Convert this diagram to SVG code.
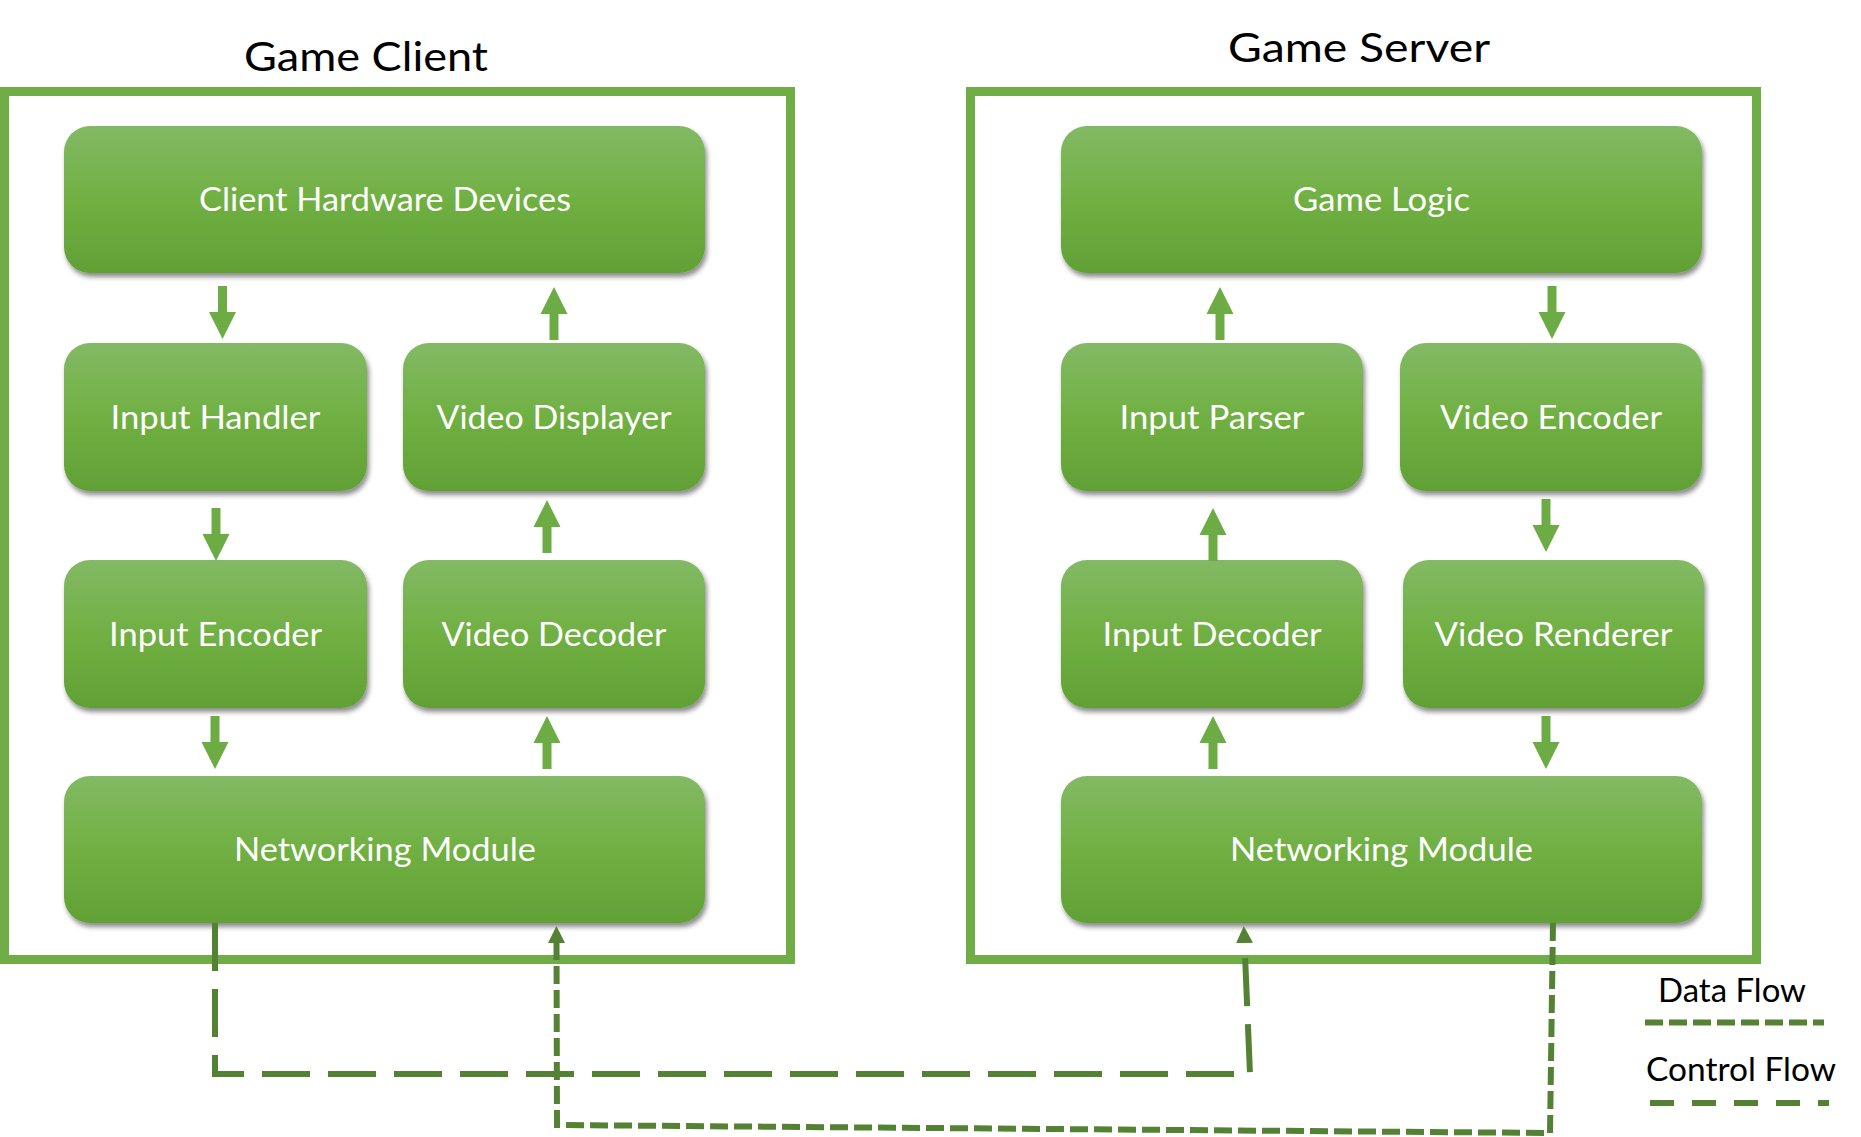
<svg xmlns="http://www.w3.org/2000/svg" xmlns:xlink="http://www.w3.org/1999/xlink" width="1861" height="1137" viewBox="0 0 1861 1137">
  <style>
    .frame { fill: none; stroke: #70ad47; stroke-width: 9; }
    .box { fill: url(#boxGrad); filter: url(#shadow); }
    .lbl { font-family: Lato, "Open Sans", "Liberation Sans", sans-serif; font-size: 33px; fill: #ffffff; text-anchor: middle; }
    .title { font-family: Lato, "Open Sans", "Liberation Sans", sans-serif; fill: #000000; text-anchor: middle; }
    .legend { font-family: Lato, "Open Sans", "Liberation Sans", sans-serif; font-size: 32px; fill: #000000; text-anchor: middle; }
    .blk { fill: #6dab44; }
    .ctrl { fill: none; stroke: #548235; stroke-width: 6; stroke-dasharray: 48 18; }
    .data { fill: none; stroke: #548235; stroke-width: 6; stroke-dasharray: 18 6; }
    .ctrlLeg { fill: none; stroke: #548235; stroke-width: 6; stroke-dasharray: 24 18; }
  </style>
  <defs>
    <linearGradient id="boxGrad" x1="0" y1="0" x2="0" y2="1">
      <stop offset="0" stop-color="#83b965"/>
      <stop offset="0.5" stop-color="#70b042"/>
      <stop offset="1" stop-color="#61a035"/>
    </linearGradient>
    <filter id="shadow" x="-5%" y="-5%" width="115%" height="125%">
      <feDropShadow dx="2" dy="4" stdDeviation="2.5" flood-color="#000000" flood-opacity="0.45"/>
    </filter>
    <path id="downArrow" d="M-4.5,0 H4.5 V26 H13.5 L0,53 L-13.5,26 H-4.5 Z"/>
    <marker id="tri" markerUnits="userSpaceOnUse" markerWidth="18" markerHeight="18" refX="0" refY="8.5" orient="auto" viewBox="0 0 18 17">
      <path d="M0,0 L17,8.5 L0,17 Z" fill="#548235"/>
    </marker>
  </defs>

  <rect width="1861" height="1137" fill="#ffffff"/>

  <!-- Containers -->
  <g id="client-container">
    <rect class="frame" x="4.5" y="91.5" width="786" height="868"/>
    <text class="title" x="366" y="71" font-size="40" textLength="244" lengthAdjust="spacingAndGlyphs">Game Client</text>
  </g>
  <g id="server-container">
    <rect class="frame" x="970.5" y="91.5" width="786" height="868"/>
    <text class="title" x="1359" y="62" font-size="41" textLength="262" lengthAdjust="spacingAndGlyphs">Game Server</text>
  </g>

  <!-- Client nodes -->
  <g id="client-hardware">
    <rect class="box" x="64" y="126" width="641" height="147" rx="26"/>
    <text class="lbl" x="385" y="211" textLength="372" lengthAdjust="spacingAndGlyphs">Client Hardware Devices</text>
  </g>
  <g id="input-handler">
    <rect class="box" x="64" y="343" width="303" height="148" rx="26"/>
    <text class="lbl" x="215.5" y="428.5" textLength="210" lengthAdjust="spacingAndGlyphs">Input Handler</text>
  </g>
  <g id="video-displayer">
    <rect class="box" x="403" y="343" width="302" height="148" rx="26"/>
    <text class="lbl" x="554" y="428.5" textLength="235" lengthAdjust="spacingAndGlyphs">Video Displayer</text>
  </g>
  <g id="input-encoder">
    <rect class="box" x="64" y="560" width="303" height="148" rx="26"/>
    <text class="lbl" x="215.5" y="645.5" textLength="213" lengthAdjust="spacingAndGlyphs">Input Encoder</text>
  </g>
  <g id="video-decoder">
    <rect class="box" x="403" y="560" width="302" height="148" rx="26"/>
    <text class="lbl" x="554" y="645.5" textLength="225" lengthAdjust="spacingAndGlyphs">Video Decoder</text>
  </g>
  <g id="client-networking">
    <rect class="box" x="64" y="776" width="641" height="147" rx="26"/>
    <text class="lbl" x="385" y="861" textLength="302" lengthAdjust="spacingAndGlyphs">Networking Module</text>
  </g>

  <!-- Server nodes -->
  <g id="game-logic">
    <rect class="box" x="1061" y="126" width="641" height="147" rx="26"/>
    <text class="lbl" x="1381.5" y="211" textLength="177" lengthAdjust="spacingAndGlyphs">Game Logic</text>
  </g>
  <g id="input-parser">
    <rect class="box" x="1061" y="343" width="302" height="148" rx="26"/>
    <text class="lbl" x="1212" y="428.5" textLength="185" lengthAdjust="spacingAndGlyphs">Input Parser</text>
  </g>
  <g id="video-encoder">
    <rect class="box" x="1400" y="343" width="302" height="148" rx="26"/>
    <text class="lbl" x="1551" y="428.5" textLength="222" lengthAdjust="spacingAndGlyphs">Video Encoder</text>
  </g>
  <g id="input-decoder">
    <rect class="box" x="1061" y="560" width="302" height="148" rx="26"/>
    <text class="lbl" x="1212" y="645.5" textLength="219" lengthAdjust="spacingAndGlyphs">Input Decoder</text>
  </g>
  <g id="video-renderer">
    <rect class="box" x="1403" y="560" width="301" height="148" rx="26"/>
    <text class="lbl" x="1553.5" y="645.5" textLength="238" lengthAdjust="spacingAndGlyphs">Video Renderer</text>
  </g>
  <g id="server-networking">
    <rect class="box" x="1061" y="776" width="641" height="147" rx="26"/>
    <text class="lbl" x="1381.5" y="861" textLength="303" lengthAdjust="spacingAndGlyphs">Networking Module</text>
  </g>

  <!-- Connectors -->
  <g id="connectors">
    <!-- client block arrows -->
    <use xlink:href="#downArrow" href="#downArrow" class="blk" transform="translate(222.5,286)"/>
    <use xlink:href="#downArrow" href="#downArrow" class="blk" transform="translate(554,340) scale(1,-1)"/>
    <use xlink:href="#downArrow" href="#downArrow" class="blk" transform="translate(216,508)"/>
    <use xlink:href="#downArrow" href="#downArrow" class="blk" transform="translate(547,553) scale(1,-1)"/>
    <use xlink:href="#downArrow" href="#downArrow" class="blk" transform="translate(215,716)"/>
    <use xlink:href="#downArrow" href="#downArrow" class="blk" transform="translate(547,769) scale(1,-1)"/>
    <!-- server block arrows -->
    <use xlink:href="#downArrow" href="#downArrow" class="blk" transform="translate(1220,340) scale(1,-1)"/>
    <use xlink:href="#downArrow" href="#downArrow" class="blk" transform="translate(1552,286)"/>
    <use xlink:href="#downArrow" href="#downArrow" class="blk" transform="translate(1213,561) scale(1,-1)"/>
    <use xlink:href="#downArrow" href="#downArrow" class="blk" transform="translate(1546,499)"/>
    <use xlink:href="#downArrow" href="#downArrow" class="blk" transform="translate(1213,769) scale(1,-1)"/>
    <use xlink:href="#downArrow" href="#downArrow" class="blk" transform="translate(1546,716)"/>
    <!-- control flow: client networking -> server networking -->
    <path class="ctrl" d="M215,923 V1074 H1250 L1244.5,943" marker-end="url(#tri)"/>
    <!-- data flow: server networking -> client networking -->
    <path class="data" d="M1553,923 L1550,1133 L557,1125 L556.5,943" marker-end="url(#tri)"/>
  </g>

  <!-- Legend -->
  <g id="legend">
    <text class="legend" x="1732" y="1002" textLength="148" lengthAdjust="spacingAndGlyphs">Data Flow</text>
    <line class="data" x1="1645" y1="1022.5" x2="1824" y2="1022.5"/>
    <text class="legend" x="1741" y="1081" textLength="190" lengthAdjust="spacingAndGlyphs">Control Flow</text>
    <line class="ctrlLeg" x1="1650" y1="1103" x2="1829" y2="1103"/>
  </g>
</svg>
